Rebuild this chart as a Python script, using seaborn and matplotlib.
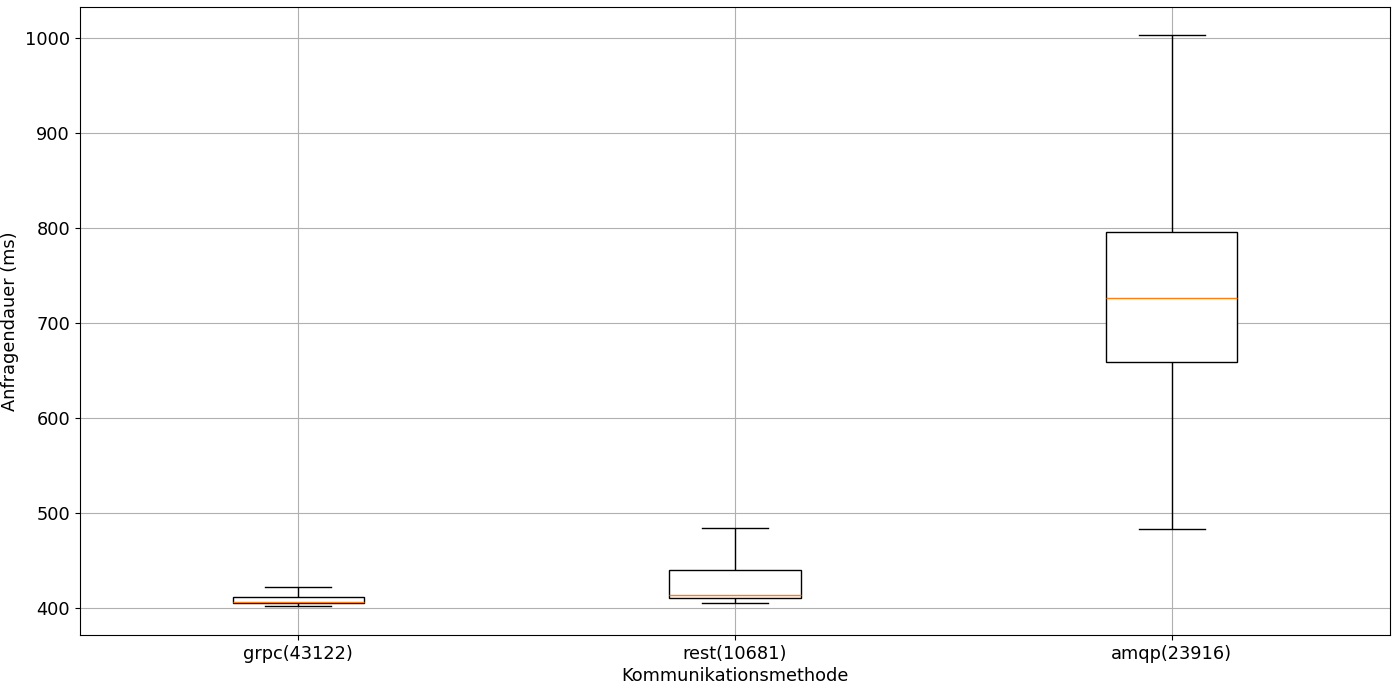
import pandas as pd
import matplotlib
matplotlib.use("Agg")
import matplotlib.pyplot as plt
import seaborn as sns

# per method: lower whisker, q1, median, q3, upper whisker (ms)
methods = ["grpc(43122)", "rest(10681)", "amqp(23916)"]
grpc = [401.4, 404.9, 406.6, 411.3, 421.4]
rest = [404.9, 410.2, 414.0, 439.3, 483.9]
amqp = [482.8, 658.6, 726.0, 795.5, 1002.8]

data = pd.DataFrame({
    "method": [methods[0]] * len(grpc) + [methods[1]] * len(rest) + [methods[2]] * len(amqp),
    "dauer": grpc + rest + amqp,
})

plt.rcParams["font.size"] = 12.75
fig, ax = plt.subplots(figsize=(14, 6.88), dpi=100)
fig.subplots_adjust(left=0.057, right=0.993, top=0.99, bottom=0.077)

sns.boxplot(data=data, x="method", y="dauer", ax=ax, width=0.3, whis=(0, 100),
            showfliers=False, color="white", linecolor="black", linewidth=1,
            saturation=1, medianprops={"color": "#ff7f0e"})

ax.grid(True, color="#b0b0b0", linewidth=0.8)
ax.set_axisbelow(True)
ax.set_xlabel("Kommunikationsmethode", labelpad=3)
ax.set_ylabel("Anfragendauer (ms)")

fig.savefig("out.png")
